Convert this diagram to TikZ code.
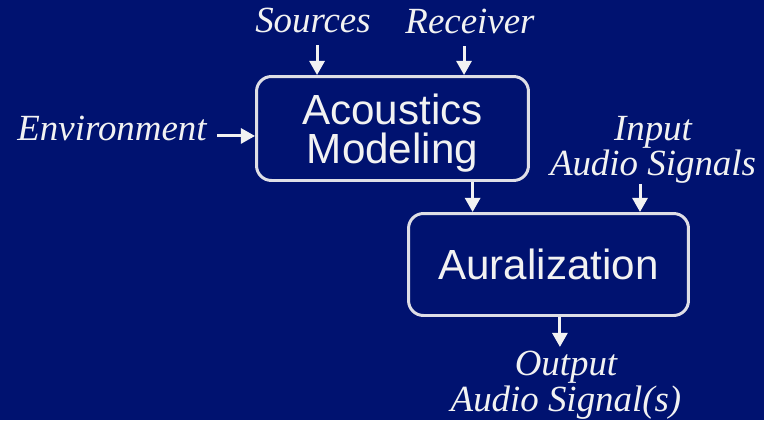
\documentclass[tikz,border=0pt]{standalone}
\usepackage{fontspec}
\setmainfont{Liberation Serif}
\setsansfont{Liberation Sans}
\usetikzlibrary{arrows.meta}
\definecolor{navy}{RGB}{0,18,112}
\definecolor{ink}{RGB}{242,242,242}
\definecolor{rim}{RGB}{222,222,230}
\tikzset{
  block/.style={draw=rim,line width=1.7pt,rounded corners=8.5pt,text=ink,align=center,
    font=\sffamily\fontsize{24}{22}\selectfont},
  lbl/.style={inner sep=0pt,text=ink,align=center,font=\itshape\fontsize{21}{18.7}\selectfont},
  arr/.style={draw=ink,line width=1.7pt,-{Triangle[length=8pt,width=8.5pt]}}
}
\begin{document}
\begin{tikzpicture}[x=0.02cm,y=-0.02cm]
\fill[navy] (0,0) rectangle (764,420);
\node at (392.5,128.5) [block,minimum width=5.44cm,minimum height=2.08cm,text depth=-2.8pt] (am) {Acoustics\\Modeling};
\node at (548.5,264.5) [block,minimum width=5.6cm,minimum height=2.04cm] (aur) {Auralization};
\node at (313,32) [lbl,anchor=base] (src) {Sources};
\node at (470,33) [lbl,anchor=base] (rcv) {Receiver};
\node at (207,140) [lbl,anchor=base east] (env) {Environment};
\node at (653,116) [lbl,anchor=north] (in) {Input\\Audio Signals};
\node at (566,351) [lbl,anchor=north] (out) {Output\\Audio Signal(s)};
\draw[arr,shorten <=7pt] ([xshift=2.3pt]src.south) -- ([xshift=2.3pt]src.south |- am.north);
\draw[arr,shorten <=7pt] ([xshift=-3.4pt]rcv.south) -- ([xshift=-3.4pt]rcv.south |- am.north);
\draw[arr,shorten <=5.7pt] (env.mid east) -- (am.west |- env.mid east);
\draw[arr] ([xshift=45.6pt]am.south) -- ([xshift=45.6pt]am.south |- aur.north);
\draw[arr] ([xshift=-7.4pt]in.south) -- ([xshift=-7.4pt]in.south |- aur.north);
\draw[arr,shorten >=2.3pt] ([xshift=6.5pt]aur.south) -- ([xshift=6.5pt]aur.south |- out.north);
\end{tikzpicture}
\end{document}
